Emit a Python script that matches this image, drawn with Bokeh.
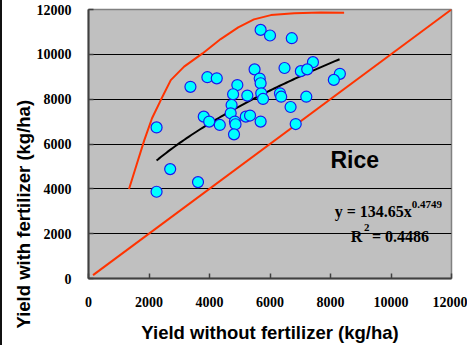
import numpy as np
from bokeh.plotting import figure
from bokeh.models import Range1d, Label, FixedTicker, Title
from bokeh.core.properties import value
from bokeh.embed import file_html
from bokeh.resources import INLINE

# Observed rice yields (kg/ha): without vs. with fertilizer
yield_without = [5690, 6000, 6720, 7420, 5490, 6480, 7020, 7230, 8310, 8110,
                 3930, 4240, 3370, 4920, 5660, 5690, 4780, 5250, 5710, 5770,
                 6330, 6370, 7200, 6680, 4730, 4700, 3810, 3990, 4340, 4840,
                 4860, 5200, 5340, 5690, 4810, 6850, 2250, 2700, 3620, 2250]
yield_with = [11090, 10840, 10720, 9650, 9330, 9390, 9250, 9330, 9130, 8860,
              8980, 8930, 8550, 8630, 8920, 8710, 8220, 8160, 8260, 8010,
              8260, 8110, 8110, 7650, 7740, 7370, 7220, 7000, 6850, 7000,
              6880, 7220, 7270, 7000, 6430, 6890, 6740, 4880, 4300, 3870]

# Upper boundary line
bound_x = [1340, 1600, 1840, 2100, 2390, 2720, 3160, 3770, 4370, 4950,
           5470, 6030, 6800, 7680, 8450]
bound_y = [3990, 5120, 6150, 7150, 7960, 8850, 9450, 10040, 10680, 11200,
           11560, 11750, 11830, 11870, 11860]

# 1:1 line
diag_x = [150, 12000]
diag_y = [150, 12000]

# Power-law fit y = a * x^b
fit_a = 134.65
fit_b = 0.4749
fit_r2 = 0.4486
fit_span = [2250, 8300]

ticks = [0, 2000, 4000, 6000, 8000, 10000, 12000]
grid_ticks = [2000, 4000, 6000, 8000, 10000]

p = figure(width=467, height=345, output_backend="svg", toolbar_location=None,
           x_range=Range1d(0, 12000), y_range=Range1d(0, 12000),
           background_fill_color="#C0C0C0", border_fill_color="white",
           min_border_left=86, min_border_right=18, min_border_top=9,
           min_border_bottom=67)
p.styles = {"border-left": "2px solid #111111"}

p.outline_line_color = "#808080"
p.outline_line_width = 1.5

p.xgrid.visible = False
p.ygrid.ticker = FixedTicker(ticks=grid_ticks)
p.ygrid.grid_line_color = "black"
p.ygrid.grid_line_width = 1

for ax in (p.xaxis[0], p.yaxis[0]):
    ax.ticker = FixedTicker(ticks=ticks)
    ax.axis_line_color = "#404040"
    ax.axis_line_width = 2
    ax.major_tick_line_color = "#404040"
    ax.major_tick_line_width = 1.5
    ax.major_tick_in = 5
    ax.major_tick_out = 0
    ax.minor_tick_line_color = None
    ax.major_label_text_font = "Liberation Serif"
    ax.major_label_text_font_style = "bold"
    ax.major_label_text_font_size = "14px"
    ax.major_label_text_color = "black"

p.xaxis.major_label_standoff = 18
p.yaxis.major_label_standoff = 17

p.xaxis.axis_label = "Yield without fertilizer (kg/ha)"
p.xaxis.axis_label_text_font = "Liberation Sans"
p.xaxis.axis_label_text_font_style = "bold"
p.xaxis.axis_label_text_font_size = "18.5px"
p.xaxis.axis_label_text_color = "black"
p.xaxis.axis_label_standoff = 12

# Vertical axis title, set lower than the frame centre
p.add_layout(Title(text="Yield with fertilizer (kg/ha)", align="left",
                   offset=-50, text_font="Liberation Sans",
                   text_font_style="bold", text_font_size="18.5px",
                   text_color="black", standoff=0), "left")

# Reference lines
p.line(diag_x, diag_y, line_color="#FF3300", line_width=2)
p.line(bound_x, bound_y, line_color="#FF3300", line_width=2)

# Fitted curve
fx = np.linspace(fit_span[0], fit_span[1], 80)
p.line(fx, fit_a * fx ** fit_b, line_color="black", line_width=2)

# Observations
p.scatter(yield_without, yield_with, size=11, fill_color="#00FFFF",
          line_color="#1a1aee", line_width=1.2)

serif = value("Liberation Serif")
sans = value("Liberation Sans")

p.text([8800], [5280], text=["Rice"], text_font=sans, text_font_style="bold",
       text_font_size="23px", text_align="center", text_baseline="middle",
       text_color="black")

p.text([8140], [2970], text=[f"y = {fit_a}x"], text_font=serif,
       text_font_style="bold", text_font_size="16px", text_align="left",
       text_baseline="middle", text_color="black")
p.text([10690], [3320], text=[f"{fit_b}"], text_font=serif,
       text_font_style="bold", text_font_size="11px", text_align="left",
       text_baseline="middle", text_color="black")
p.text([8670], [1860], text=["R"], text_font=serif, text_font_style="bold",
       text_font_size="16px", text_align="left", text_baseline="middle",
       text_color="black")
p.text([9110], [2280], text=["2"], text_font=serif, text_font_style="bold",
       text_font_size="11px", text_align="left", text_baseline="middle",
       text_color="black")
p.text([9370], [1860], text=[f"= {fit_r2}"], text_font=serif,
       text_font_style="bold", text_font_size="16px", text_align="left",
       text_baseline="middle", text_color="black")

# Small asterisk below the x axis, right of the title
p.add_layout(Label(x=342, y=-43, x_units="screen", y_units="screen", text="*",
                   text_align="center", text_baseline="middle",
                   text_font="Liberation Sans", text_font_size="10px",
                   text_color="#808080"))

open("out.html", "w").write(file_html(p, INLINE))
